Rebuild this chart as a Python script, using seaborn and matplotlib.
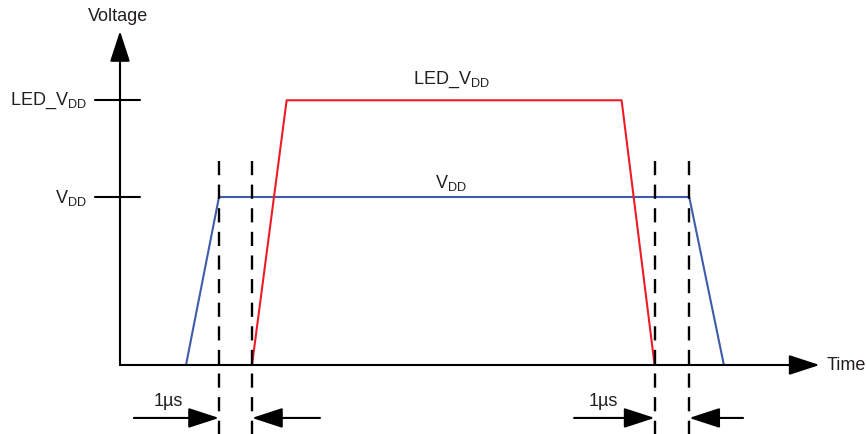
import matplotlib.pyplot as plt
import pandas as pd
import seaborn as sns

# levels (V) and waveform breakpoints (time in us)
vdd = 3.3
led_vdd = 5.2
vdd_time = [2.0, 3.0, 17.25, 18.3]
vdd_volt = [0.0, vdd, vdd, 0.0]
led_time = [4.0, 5.05, 15.2, 16.2]
led_volt = [0.0, led_vdd, led_vdd, 0.0]
marker_times = [3.0, 4.0, 16.2, 17.25]
gap_label = "1µs"

blue = "#3f5ba9"
red = "#ed1c24"
ink = "#231f20"

sns.set_style("white")
plt.rcParams["font.family"] = ["Liberation Sans", "DejaVu Sans"]
plt.rcParams["mathtext.fontset"] = "custom"
plt.rcParams["mathtext.rm"] = "Liberation Sans"
plt.rcParams["text.color"] = ink

fig = plt.figure(figsize=(8.66, 4.35), dpi=100)
ax = fig.add_axes([0, 0, 1, 1])
ax.set_xlim(-120 / 33, 746 / 33)
ax.set_ylim(-69 / 168 * vdd, 366 / 168 * vdd)
ax.axis("off")

vdd_df = pd.DataFrame({"t": vdd_time, "v": vdd_volt})
led_df = pd.DataFrame({"t": led_time, "v": led_volt})
sns.lineplot(data=vdd_df, x="t", y="v", sort=False, color=blue, lw=1.5, ax=ax)
sns.lineplot(data=led_df, x="t", y="v", sort=False, color=red, lw=1.5, ax=ax)

# axes with arrow heads
arrow = dict(arrowstyle="-|>,head_length=1.9,head_width=0.62", lw=1.5,
             color="black", shrinkA=0, shrinkB=0, mutation_scale=10)
ax.annotate("", xy=(0, 6.56), xytext=(0, 0), arrowprops=arrow)
ax.annotate("", xy=(21.2, 0), xytext=(0, 0), arrowprops=arrow)
ax.text(-0.06, 6.87, "Voltage", ha="center", va="center", fontsize=13)
ax.text(21.4, 0, "Time", ha="left", va="center", fontsize=13)

# level ticks on the voltage axis
for level, label in [(led_vdd, r"LED_$\mathrm{V}_\mathrm{DD}$"), (vdd, r"$\mathrm{V}_\mathrm{DD}$")]:
    ax.plot([-0.76, 0.62], [level, level], color="black", lw=1.5)
    ax.text(-1.0, level, label, ha="right", va="center", fontsize=13)

ax.text(10.03, 5.62, r"LED_$\mathrm{V}_\mathrm{DD}$", ha="center", va="center", fontsize=13)
ax.text(10.03, 3.59, r"$\mathrm{V}_\mathrm{DD}$", ha="center", va="center", fontsize=13)

# dashed timing markers
for t in marker_times:
    ax.plot([t, t], [4.0, ax.get_ylim()[0]], color="black", lw=1.7,
            linestyle=(0, (6, 4)))

# 1us gap arrows: (left marker, right marker, left tail length, right tail length)
arrow_y = -1.04
gaps = [(marker_times[0], marker_times[1], 2.58, 2.06),
        (marker_times[2], marker_times[3], 2.44, 1.63)]
for t_left, t_right, len_left, len_right in gaps:
    ax.annotate("", xy=(t_left, arrow_y), xytext=(t_left - len_left, arrow_y), arrowprops=arrow)
    ax.annotate("", xy=(t_right, arrow_y), xytext=(t_right + len_right, arrow_y), arrowprops=arrow)
    ax.text(t_left - 1.55, -0.69, gap_label, ha="center", va="center", fontsize=13)

fig.savefig("out.png", dpi=100)
